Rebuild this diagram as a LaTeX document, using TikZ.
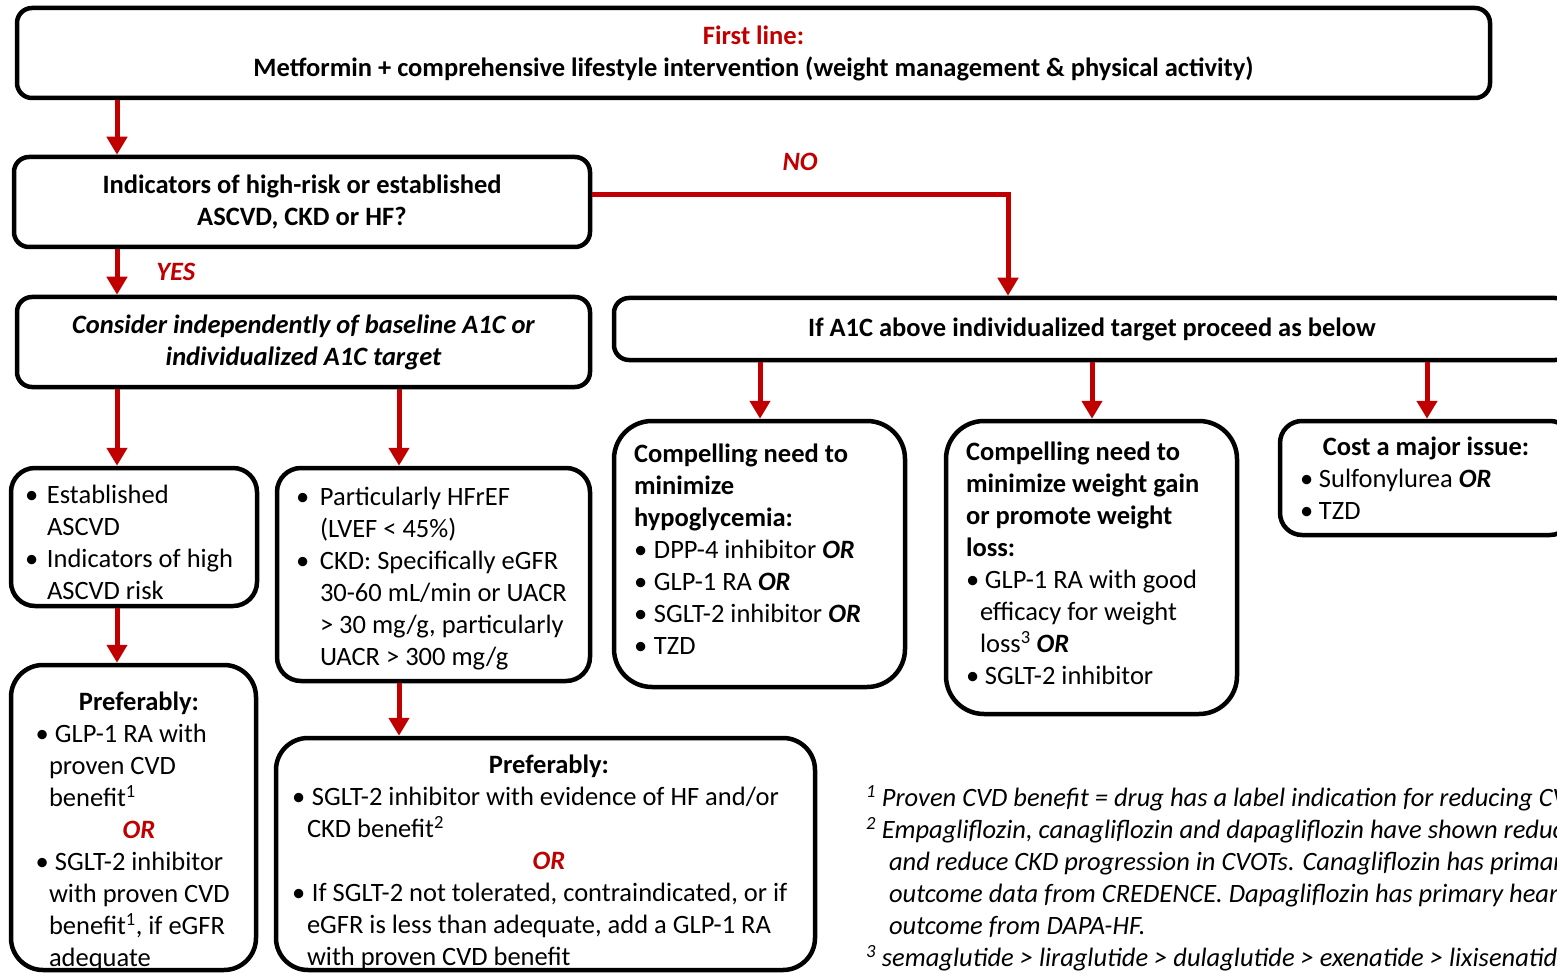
\documentclass[tikz,border=0pt]{standalone}
\usepackage{fontspec}
\setmainfont{Carlito}
\usetikzlibrary{arrows.meta,positioning}
\definecolor{ared}{HTML}{C00000}
\newcommand{\blt}[1]{\makebox[#1][l]{\textbullet}}
\newcommand{\hind}[1]{\hspace*{#1}}
\newcommand{\midln}[2][0pt]{\hspace*{\fill}\hspace*{#1}#2\hspace*{\fill}\null}
\newcommand{\bor}{\textbf{\textit{OR}}}
\newcommand{\vfix}[1]{\par\vspace*{#1}\hrule height 0pt}
\begin{document}
\fontsize{26.5}{32}\selectfont
\begin{tikzpicture}[x=1pt, y=-1pt,
        box/.style={draw, line width=4.5pt, rounded corners=15pt, inner sep=0pt, align=center, font=\bfseries},
        lbox/.style={box, align=flush left, font=\normalfont},
        arr/.style={draw=ared, line width=5pt, -{Triangle[width=20pt,length=18pt]}},
        lbl/.style={text=ared, font=\bfseries\itshape}
    ]
        \useasboundingbox (0,0) rectangle (1557,973);
        \clip (0,0) rectangle (1557,973);

        % top row
        \node[box, minimum width=1473, minimum height=90] (first) at (753.5,53)
            {{\color{ared}First line:}\\Metformin + comprehensive lifestyle intervention (weight management \& physical activity)};
        \node[box, minimum width=576, minimum height=90] (risk) at (302,202)
            {Indicators of high-risk or established\\ASCVD, CKD or HF?};
        \node[box, font=\bfseries\itshape, minimum width=573, minimum height=90] (indep) at (303.5,342)
            {Consider independently of baseline A1C or\\individualized A1C target};
        \node[box, minimum width=956, minimum height=62] (above) at (1092,329)
            {If A1C above individualized target proceed as below};

        % left branch
        \node[lbox, rounded corners=24pt, text width=218, minimum width=246, minimum height=138] (ascvd) at (134,537)
            {\blt{22pt}Established\\\hind{22pt}ASCVD\\\blt{22pt}Indicators of high\\\hind{22pt}ASCVD risk\vfix{-10pt}};
        \node[lbox, rounded corners=24pt, text width=275, minimum width=313, minimum height=213] (hfref) at (433.5,574.5)
            {\blt{24pt}Particularly HFrEF\\\hind{24pt}(LVEF < 45\%)\\\blt{24pt}CKD: Specifically eGFR\\
             \hind{24pt}30-60 mL/min or UACR\\\hind{24pt}> 30 mg/g, particularly\\\hind{24pt}UACR > 300 mg/g\vfix{-9pt}};
        \node[lbox, rounded corners=32pt, text width=196, minimum width=245, minimum height=305] (prefl) at (133.5,817.5)
            {\midln[11pt]{\textbf{Preferably:}}\\
             \blt{19.5pt}GLP-1 RA with\\\hind{13.5pt}proven CVD\\\hind{13.5pt}benefit\textsuperscript{1}\\
             \midln[11pt]{\textcolor{ared}{\bor}}\\
             \blt{19.5pt}SGLT-2 inhibitor\\\hind{13.5pt}with proven CVD\\\hind{13.5pt}benefit\textsuperscript{1}, if eGFR\\\hind{13.5pt}adequate\vfix{-27pt}};
        \node[lbox, rounded corners=32pt, text width=507, minimum width=539, minimum height=232] (prefm) at (545.5,854)
            {\midln[7pt]{\textbf{Preferably:}}\\
             \blt{20pt}SGLT-2 inhibitor with evidence of HF and/or\\\hind{15pt}CKD benefit\textsuperscript{2}\\
             \midln[7pt]{\textcolor{ared}{\bor}}\\
             \blt{20pt}If SGLT-2 not tolerated, contraindicated, or if\\\hind{15pt}eGFR is less than adequate, add a GLP-1 RA\\\hind{15pt}with proven CVD benefit\vfix{-16pt}};

        % right branch
        \node[lbox, rounded corners=38pt, text width=251, minimum width=291, minimum height=266] (hypo) at (759.5,554)
            {\textbf{Compelling need to\\minimize\\hypoglycemia:}\\
             \blt{20pt}DPP-4 inhibitor \bor\\\blt{20pt}GLP-1 RA \bor\\\blt{20pt}SGLT-2 inhibitor \bor\\\blt{20pt}TZD\vfix{10pt}};
        \node[lbox, rounded corners=38pt, text width=251, minimum width=291, minimum height=293] (wt) at (1091.5,567.5)
            {\textbf{Compelling need to\\minimize weight gain\\or promote weight\\loss:}\\
             \blt{19pt}GLP-1 RA with good\\\hind{14pt}efficacy for weight\\\hind{14pt}loss\textsuperscript{3} \bor\\\blt{19pt}SGLT-2 inhibitor\vfix{9pt}};
        \node[lbox, rounded corners=22pt, text width=252, minimum width=292, minimum height=114] (cost) at (1426,478)
            {\midln{\textbf{Cost a major issue:}}\\\blt{19pt}Sulfonylurea \bor\\\blt{19pt}TZD};

        % footnotes
        \node[anchor=west, align=left, font=\itshape] (notes) at (857,878)
            {\textsuperscript{1} Proven CVD benefit = drug has a label indication for reducing CVD events\\
             \textsuperscript{2} Empagliflozin, canagliflozin and dapagliflozin have shown reduction in HF\\
             \hind{23pt}and reduce CKD progression in CVOTs. Canagliflozin has primary renal\\
             \hind{23pt}outcome data from CREDENCE. Dapagliflozin has primary heart failure\\
             \hind{23pt}outcome from DAPA-HF.\\
             \textsuperscript{3} semaglutide > liraglutide > dulaglutide > exenatide > lixisenatide};

        % connectors
        \coordinate (xa) at (117,0);
        \coordinate (xb) at (399,0);
        \coordinate (xno) at (1008,0);
        \coordinate (xc) at (760,0);
        \coordinate (xd) at (1092,0);
        \coordinate (xe) at (1427,0);

        \draw[arr] (xa |- first.south) -- (xa |- risk.north);
        \draw[arr] (xa |- risk.south) -- node[lbl, right=28pt] (yes) {YES} (xa |- indep.north);
        \draw[arr] ([yshift=7pt]risk.east) -| node[lbl, pos=0.25, above=13pt] (no) {NO} (xno |- above.north);
        \draw[arr] (xa |- indep.south) -- (xa |- ascvd.north);
        \draw[arr] (xb |- indep.south) -- (xb |- hfref.north);
        \draw[arr] (xa |- ascvd.south) -- (xa |- prefl.north);
        \draw[arr] (xb |- hfref.south) -- (xb |- prefm.north);
        \draw[arr] (xc |- above.south) -- (xc |- hypo.north);
        \draw[arr] (xd |- above.south) -- (xd |- wt.north);
        \draw[arr] (xe |- above.south) -- (xe |- cost.north);
\end{tikzpicture}
\end{document}
